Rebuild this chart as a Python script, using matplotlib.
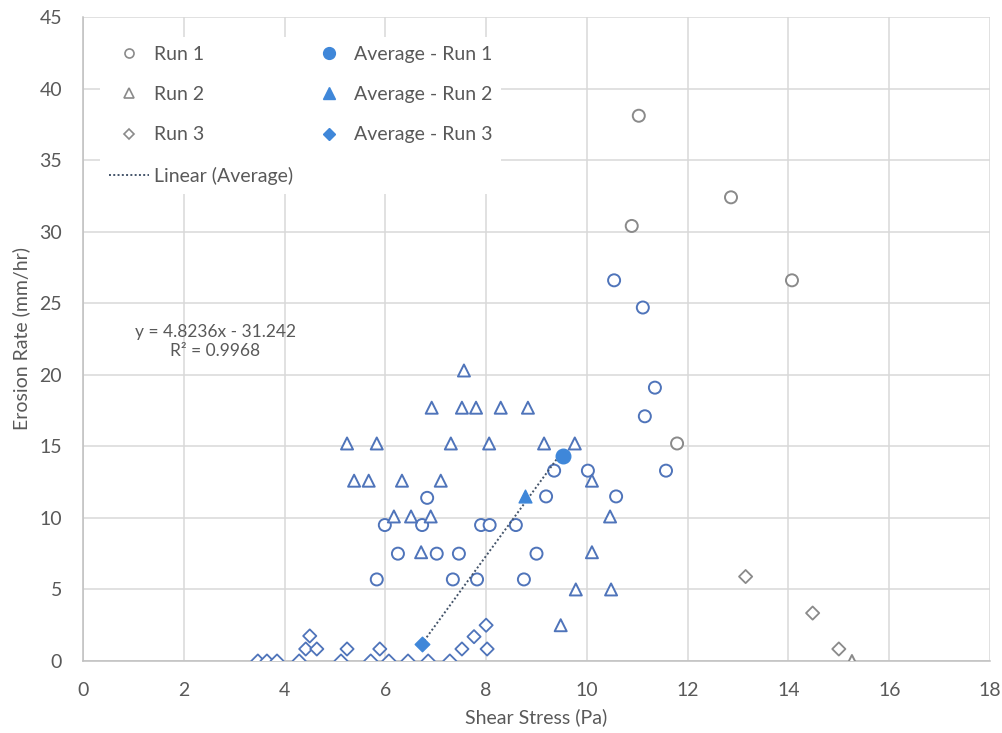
import matplotlib

matplotlib.use("Agg")
import matplotlib.pyplot as plt
import numpy as np

# shear stress (Pa) / erosion rate (mm/hr) per run
run1_x = [11.03, 12.86, 10.89, 10.54, 11.11, 14.07, 11.35, 11.15, 11.79, 11.57,
          10.02, 9.35, 10.58, 9.19, 6.83, 5.99, 6.73, 7.90, 8.07, 8.59,
          6.25, 7.02, 7.46, 9.00, 5.83, 7.34, 7.82, 8.75]
run1_y = [38.1, 32.4, 30.4, 26.6, 24.7, 26.6, 19.1, 17.1, 15.2, 13.3,
          13.3, 13.3, 11.5, 11.5, 11.4, 9.5, 9.5, 9.5, 9.5, 9.5,
          7.5, 7.5, 7.5, 7.5, 5.7, 5.7, 5.7, 5.7]

run2_x = [7.56, 6.92, 7.52, 7.80, 8.29, 8.83, 5.24, 5.83, 7.30, 8.06,
          9.15, 9.76, 5.38, 5.67, 6.33, 7.10, 10.10, 6.17, 6.51, 6.90,
          10.46, 6.71, 10.10, 9.78, 10.48, 9.48, 15.26]
run2_y = [20.3, 17.7, 17.7, 17.7, 17.7, 17.7, 15.2, 15.2, 15.2, 15.2,
          15.2, 15.2, 12.6, 12.6, 12.6, 12.6, 12.6, 10.1, 10.1, 10.1,
          10.1, 7.6, 7.6, 5.0, 5.0, 2.5, 0.0]

run3_x = [3.47, 3.65, 3.85, 4.29, 4.42, 4.50, 4.64, 5.12, 5.24, 5.71,
          5.89, 6.07, 6.45, 6.85, 7.28, 7.52, 7.76, 8.00, 8.02, 13.15,
          14.48, 15.00]
run3_y = [0.0, 0.0, 0.0, 0.0, 0.84, 1.75, 0.84, 0.0, 0.84, 0.0,
          0.84, 0.0, 0.0, 0.0, 0.0, 0.84, 1.7, 2.5, 0.84, 5.9,
          3.35, 0.84]

avg_labels = ["Average - Run 1", "Average - Run 2", "Average - Run 3"]
avg_x = [9.52, 8.77, 6.72]
avg_y = [14.3, 11.5, 1.2]

trend_slope = 4.8236
trend_intercept = -31.242
trend_r2 = 0.9968

BLUE = "#4f74ba"
FILL = "#3f87d9"
GREY = "#8a8a8a"
TEXT = "#595959"
GRID = "#d9d9d9"
TREND = "#44546a"

plt.rcParams["font.family"] = ["Lato", "DejaVu Sans"]

W, H = 1002, 733
fig = plt.figure(figsize=(W / 100, H / 100), dpi=100)
ax = fig.add_axes([83 / W, 1 - 661 / H, (990 - 83) / W, (661 - 17) / H])


def edge_colours(xs, ys):
    # points well away from the main cluster are drawn grey
    return [GREY if (y > 28 or x > 11.7) else BLUE for x, y in zip(xs, ys)]


ax.scatter(run1_x, run1_y, s=75, marker="o", facecolors="white",
           edgecolors=edge_colours(run1_x, run1_y), linewidths=1.4, zorder=3)
ax.scatter(run2_x, run2_y, s=75, marker="^", facecolors="white",
           edgecolors=edge_colours(run2_x, run2_y), linewidths=1.4, zorder=3)
ax.scatter(run3_x, run3_y, s=45, marker="D", facecolors="white",
           edgecolors=edge_colours(run3_x, run3_y), linewidths=1.3, zorder=3)

xs = np.array([min(avg_x), max(avg_x)])
ax.plot(xs, trend_slope * xs + trend_intercept, ls=(0, (1, 1.2)), lw=1.4,
        color=TREND, zorder=4)

for x, y, m, s in zip(avg_x, avg_y, ["o", "^", "D"], [110, 85, 55]):
    ax.scatter([x], [y], s=s, marker=m, color=FILL, zorder=5)

ax.text(2.62, 22.3,
        f"y = {trend_slope}x - {abs(trend_intercept)}\nR² = {trend_r2}",
        ha="center", va="center", fontsize=12.5, color=TEXT, linespacing=1.25)

ax.set_xlim(0, 18)
ax.set_ylim(0, 45)
ax.set_xticks(range(0, 19, 2))
ax.set_yticks(range(0, 46, 5))
ax.grid(True, color=GRID, lw=1.1)
ax.set_axisbelow(True)
for side in ("top", "right"):
    ax.spines[side].set_visible(False)
for side in ("left", "bottom"):
    ax.spines[side].set_color("#bfbfbf")
    ax.spines[side].set_linewidth(1.1)
ax.tick_params(length=0, labelsize=14, colors=TEXT, pad=15)
ax.set_xlabel("Shear Stress (Pa)", fontsize=14, color=TEXT, labelpad=7)
ax.set_ylabel("Erosion Rate (mm/hr)", fontsize=14, color=TEXT, labelpad=7)

# legend: open markers grey, averages filled
h = [
    plt.Line2D([], [], ls="none", marker="o", mfc="white", mec=GREY, ms=6.5, mew=1.2),
    plt.Line2D([], [], ls="none", marker="^", mfc="white", mec=GREY, ms=6.5, mew=1.2),
    plt.Line2D([], [], ls="none", marker="D", mfc="white", mec=GREY, ms=5, mew=1.2),
    plt.Line2D([], [], ls=(0, (1, 1.2)), lw=1.4, color=TREND),
    plt.Line2D([], [], ls="none", marker="o", color=FILL, ms=8.5),
    plt.Line2D([], [], ls="none", marker="^", color=FILL, ms=8.5),
    plt.Line2D([], [], ls="none", marker="D", color=FILL, ms=6.5),
]
labels = ["Run 1", "Run 2", "Run 3", "Linear (Average)"] + avg_labels
ax.legend(h, labels, ncol=2, loc="upper left",
          bbox_to_anchor=(100 / W, 1 - 37 / H), bbox_transform=fig.transFigure,
          borderaxespad=0, frameon=True, facecolor="white", edgecolor="none",
          framealpha=1, fontsize=14, labelcolor=TEXT, labelspacing=1.2,
          columnspacing=0.8, handlelength=2.06, handletextpad=0.26,
          borderpad=0.45)

fig.savefig("out.png", dpi=100, facecolor="white")
